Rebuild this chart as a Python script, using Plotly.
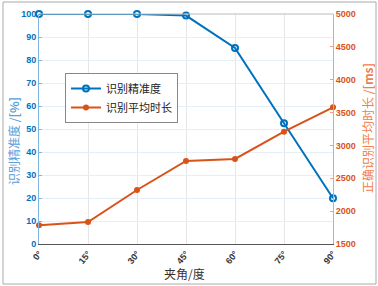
import plotly.graph_objects as go

angles = [0, 15, 30, 45, 60, 75, 90]
angle_labels = ["0°", "15°", "30°", "45°", "60°", "75°", "90°"]
accuracy = [100, 100, 100, 99.3, 85.2, 52.5, 19.9]
avg_time = [1787, 1835, 2322, 2763, 2795, 3209, 3580]

blue = "#0072BD"
orange = "#D95319"

fig = go.Figure()
fig.add_trace(go.Scatter(x=angles, y=accuracy, name="识别精准度", mode="lines+markers",
                         line=dict(color=blue, width=2),
                         marker=dict(symbol="circle-open", size=6, color=blue, line=dict(width=2)),
                         yaxis="y", cliponaxis=False))
fig.add_trace(go.Scatter(x=angles, y=avg_time, name="识别平均时长", mode="lines+markers",
                         line=dict(color=orange, width=2),
                         marker=dict(symbol="circle", size=6, color=orange),
                         yaxis="y2", cliponaxis=False))

W, H = 378, 286
L, R, T, B = 39, 45, 14, 42
pw, ph = W - L - R, H - T - B

def px(x):
    return (x - L) / pw

def py(y):
    return (H - B - y) / ph

fig.update_layout(
    width=W, height=H,
    margin=dict(l=L, r=R, t=T, b=B, autoexpand=False),
    paper_bgcolor="white", plot_bgcolor="white",
    font=dict(family="Noto Sans CJK SC, Arial", size=10),
    showlegend=True,
    legend=dict(x=px(65), y=py(73), xanchor="left", yanchor="top",
                bgcolor="white", bordercolor="#888888", borderwidth=1,
                font=dict(size=11, color="#222222"), tracegroupgap=0,
                itemwidth=30),
    xaxis=dict(range=[0, 90], tickvals=angles, ticktext=angle_labels, tickangle=-50,
               automargin=False,
               showgrid=True, gridcolor="#E6E6E6", zeroline=False,
               showline=True, linecolor="#555555", mirror=False,
               tickfont=dict(size=9, color="#333333", family="Arial", weight="bold")),
    yaxis=dict(range=[0, 100], tickvals=[0,10,20,30,40,50,60,70,80,90,100],
               automargin=False,
               showgrid=True, gridcolor="#E6EEF6", zeroline=False,
               showline=True, linecolor="#7FB6E0",
               ticks="inside", ticklen=3, tickcolor="#7FB6E0",
               tickfont=dict(size=9, color=blue, family="Arial", weight="bold")),
    yaxis2=dict(range=[1500, 5000], overlaying="y", side="right",
                automargin=False,
                tickvals=[1500,2000,2500,3000,3500,4000,4500,5000],
                showgrid=False, zeroline=False,
                showline=True, linecolor="#F0A080",
                ticks="inside", ticklen=3, tickcolor="#F0A080",
                tickfont=dict(size=9, color=orange, family="Arial", weight="bold")),
    annotations=[
        dict(text="识别精准度 /<b>[%]</b>", xref="paper", yref="paper",
             x=px(13), y=py(141), textangle=-90, showarrow=False,
             xanchor="center", yanchor="middle",
             font=dict(size=12, color="#5AA0D8")),
        dict(text="正确识别平均时长 /<b>[ms]</b>", xref="paper", yref="paper",
             x=px(367), y=py(128), textangle=-90, showarrow=False,
             xanchor="center", yanchor="middle",
             font=dict(size=12, color="#F08050")),
        dict(text="夹角/度", xref="paper", yref="paper",
             x=px(184), y=py(273), showarrow=False,
             xanchor="center", yanchor="middle",
             font=dict(size=12, color="#333333")),
    ],
    shapes=[
        dict(type="line", xref="paper", yref="paper", x0=0, x1=1, y0=1, y1=1,
             line=dict(color="#BBBBBB", width=1)),
        dict(type="rect", xref="paper", yref="paper", x0=px(3), x1=px(376), y0=py(284), y1=py(2),
             line=dict(color="#AAAAAA", width=1)),
    ],
)

fig.write_html("out.html", config={"displayModeBar": False},
               post_script="document.body.style.margin='0px';document.body.style.overflow='hidden';")
